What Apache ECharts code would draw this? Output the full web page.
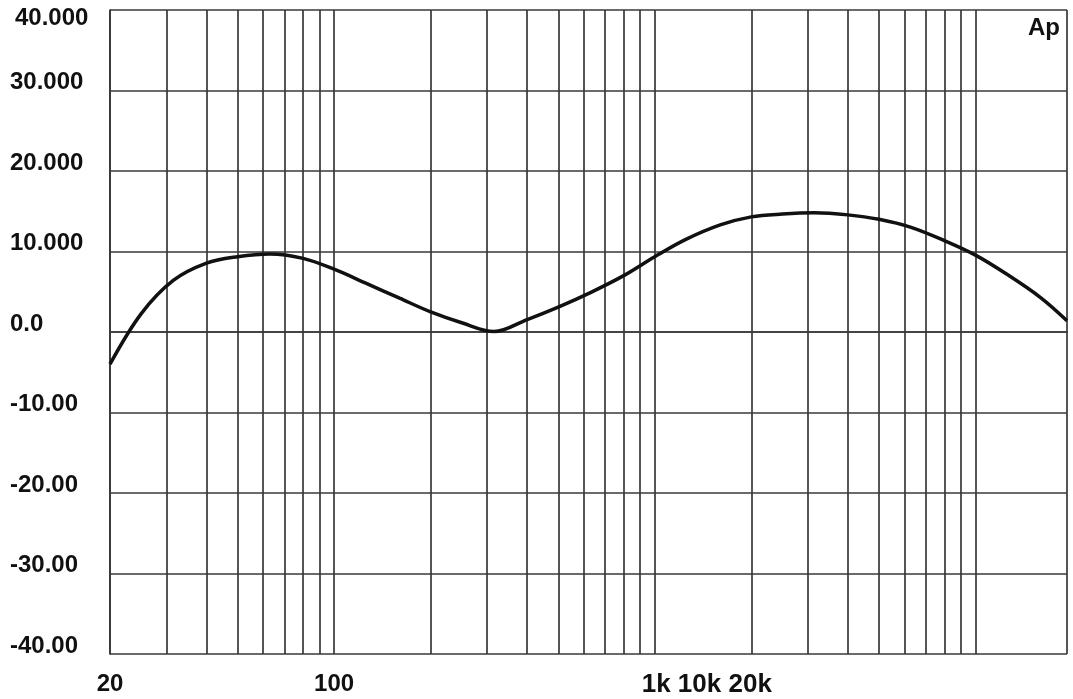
<!DOCTYPE html>
<html>
<head>
<meta charset="utf-8">
<script src="https://cdn.jsdelivr.net/npm/echarts@6/dist/echarts.min.js"></script>
<style>
  html, body { margin: 0; padding: 0; background: #fff; }
  #chart { width: 1073px; height: 699px; }
</style>
</head>
<body>
<div id="chart"></div>
<script>
// response curve at 1/3-octave points (Hz, dB)
const freqs = [20, 25, 31.5, 40, 50, 63, 80, 100, 125, 160, 200, 250, 315, 400, 500, 630, 800, 1000, 1250, 1600, 2000, 2500, 3150, 4000, 5000, 6300, 8000, 10000, 12500, 16000, 19300];
const levels = [-4.0, 2.25, 6.4, 8.55, 9.35, 9.7, 9.15, 7.8, 6.1, 4.2, 2.5, 1.15, 0.05, 1.55, 3.1, 4.9, 7.0, 9.35, 11.5, 13.3, 14.3, 14.65, 14.8, 14.55, 14.0, 13.0, 11.35, 9.55, 7.2, 4.25, 1.4];

const yTicks = [-40, -30, -20, -10, 0, 10, 20, 30, 40];
const yTickLabels = ['-40.00', '-30.00', '-20.00', '-10.00', '0.0', '10.000', '20.000', '30.000', '40.000'];
const xTicks = [20, 100, 1000];
const xTickLabels = ['20', '100', '1k 10k 20k'];
// in-between log grid lines
const minorGridFreqs = [30, 40, 50, 60, 70, 80, 90, 200, 300, 400, 500, 600, 700, 800, 900, 2000, 3000, 4000, 5000, 6000, 7000, 8000, 9000];

const font = 'Liberation Sans, Arial, Helvetica, sans-serif';
const gridColor = '#383838';
const gridWidth = 1.7;

const chart = echarts.init(document.getElementById('chart'));

const option = {
  animation: false,
  backgroundColor: '#fff',
  title: {
    text: 'Ap',
    right: 13,
    top: 16,
    padding: 0,
    textStyle: { fontFamily: font, fontSize: 24, fontWeight: 'bold', color: '#111' },
  },
  grid: { left: 110, right: 6, top: 10, bottom: 45 },
  xAxis: {
    type: 'log',
    logBase: 10,
    min: 20,
    max: 19300,
    axisLine: { show: true, lineStyle: { color: gridColor, width: gridWidth } },
    axisTick: { show: false },
    splitLine: { show: true, lineStyle: { color: gridColor, width: gridWidth } },
    axisLabel: {
      margin: 18,
      fontFamily: font,
      fontSize: 24,
      fontWeight: 'bold',
      color: '#111',
      formatter: (v) => {
        const i = xTicks.findIndex((t) => Math.abs(t - v) / t < 0.01);
        if (i < 0) return '';
        return i === 2 ? '{k|' + xTickLabels[i] + '}' : '{n|' + xTickLabels[i] + '}';
      },
      rich: {
        n: { fontFamily: font, fontSize: 24, fontWeight: 'bold', color: '#111' },
        k: { fontFamily: font, fontSize: 26, fontWeight: 'bold', color: '#111', padding: [0, 0, 0, 104] },
      },
    },
  },
  yAxis: {
    type: 'value',
    min: -40,
    max: 40,
    interval: 10,
    axisLine: { show: true, lineStyle: { color: gridColor, width: gridWidth } },
    axisTick: { show: false },
    splitLine: { show: true, lineStyle: { color: gridColor, width: gridWidth } },
    axisLabel: {
      margin: 100,
      align: 'left',
      fontFamily: font,
      fontSize: 24,
      fontWeight: 'bold',
      color: '#111',
      formatter: (v) => {
        const i = yTicks.indexOf(Math.round(v));
        if (i < 0) return '';
        return i === yTicks.length - 1 ? '{t|' + yTickLabels[i] + '}' : '{n|' + yTickLabels[i] + '}';
      },
      rich: {
        n: { fontFamily: font, fontSize: 24, fontWeight: 'bold', color: '#111', padding: [0, 0, 16, 0] },
        t: { fontFamily: font, fontSize: 24, fontWeight: 'bold', color: '#111', padding: [16, 0, 0, 5] },
      },
    },
  },
  series: [
    {
      type: 'line',
      data: [],
      z: 1,
      silent: true,
      markLine: {
        silent: true,
        symbol: 'none',
        label: { show: false },
        lineStyle: { color: gridColor, width: gridWidth, type: 'solid' },
        data: minorGridFreqs.map((f) => ({ xAxis: f })),
      },
    },
    {
      type: 'line',
      z: 5,
      data: freqs.map((f, i) => [f, levels[i]]),
      smooth: 0.35,
      showSymbol: false,
      lineStyle: { color: '#111', width: 3.5 },
    },
  ],
};

chart.setOption(option);
</script>
</body>
</html>
